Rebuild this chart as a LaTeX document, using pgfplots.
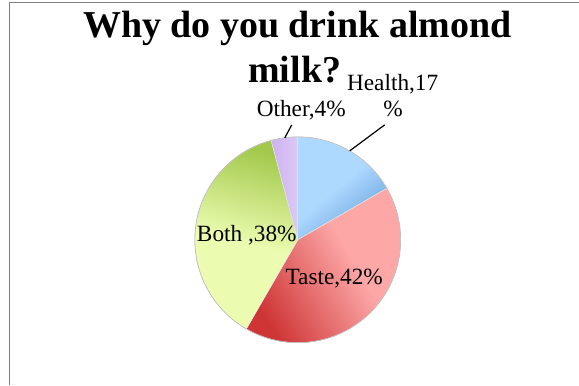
\documentclass[border=0pt]{standalone}
\usepackage{pgfplots}
\usepackage{pgfplotstable}
\pgfplotsset{compat=1.18}
\usepackage{fontspec}
\setmainfont{Liberation Serif}

\definecolor{hlight}{HTML}{ADD8FF}
\definecolor{hdark}{HTML}{6AA3DB}
\definecolor{tlight}{HTML}{FDA7A7}
\definecolor{tdark}{HTML}{CE3535}
\definecolor{blight}{HTML}{EBFCB0}
\definecolor{bdark}{HTML}{A3C94C}
\definecolor{olight}{HTML}{DCC8F8}
\definecolor{odark}{HTML}{CDB2F2}
\definecolor{framegray}{HTML}{808080}

\pgfdeclareverticalshading{healthshade}{100bp}{color(0bp)=(hdark); color(25bp)=(hdark); color(52bp)=(hlight); color(100bp)=(hlight)}
\pgfdeclareverticalshading{tasteshade}{100bp}{color(0bp)=(tdark); color(25bp)=(tdark); color(57bp)=(tlight); color(100bp)=(tlight)}
\pgfdeclareverticalshading{bothshade}{100bp}{color(0bp)=(blight); color(48bp)=(blight); color(75bp)=(bdark); color(100bp)=(bdark)}

\pgfplotstableread{
label share
Health 16.67
Taste 41.67
Both 37.50
Other 4.17
}\piedata

\begin{document}
\begin{tikzpicture}
\pgfplotstablegetelem{0}{share}\of\piedata\edef\sA{\pgfplotsretval}
\pgfplotstablegetelem{1}{share}\of\piedata\edef\sB{\pgfplotsretval}
\pgfplotstablegetelem{2}{share}\of\piedata\edef\sC{\pgfplotsretval}
\pgfplotstablegetelem{3}{share}\of\piedata\edef\sD{\pgfplotsretval}
\pgfmathsetmacro\sS{\sA+\sB+\sC+\sD}
\pgfmathsetmacro\aA{90}
\pgfmathsetmacro\aB{\aA-360*\sA/\sS}
\pgfmathsetmacro\aC{\aB-360*\sB/\sS}
\pgfmathsetmacro\aD{\aC-360*\sC/\sS}
\pgfmathsetmacro\aE{\aD-360*\sD/\sS}
\begin{axis}[
  scale only axis, width=579pt, height=385pt,
  xmin=0, xmax=579, ymin=0, ymax=385,
  axis lines=none, clip=false]
\path (axis cs:0,0) rectangle (axis cs:579,385);
% frame
\addplot[framegray, line width=1pt] coordinates {(10,0) (10,382) (579,382)};
% slices
\path[shading=healthshade, shading angle=40,
      draw=white!80!gray, line width=0.5pt]
  (axis cs:298,145) -- ++(\aA:103pt) arc[start angle=\aA, end angle=\aB, radius=103pt] -- cycle;
\path[shading=tasteshade, shading angle=-60,
      draw=white!80!gray, line width=0.5pt]
  (axis cs:298,145) -- ++(\aB:103pt) arc[start angle=\aB, end angle=\aC, radius=103pt] -- cycle;
\path[shading=bothshade, shading angle=-15,
      draw=white!80!gray, line width=0.5pt]
  (axis cs:298,145) -- ++(\aC:103pt) arc[start angle=\aC, end angle=\aD, radius=103pt] -- cycle;
\path[left color=odark, right color=olight,
      draw=white!80!gray, line width=0.5pt]
  (axis cs:298,145) -- ++(\aD:103pt) arc[start angle=\aD, end angle=\aE, radius=103pt] -- cycle;
\draw[gray!55, line width=0.6pt] (axis cs:298,145) circle[radius=103pt];
% leader lines
\addplot[black, line width=1.2pt] coordinates {(385,260) (350,234)};
\addplot[black, line width=1.2pt] coordinates {(292,260) (285,247)};
% title
\node[anchor=base, font=\fontsize{38}{40}\selectfont\bfseries] at (axis cs:297.5,347) {Why do you drink almond};
\node[anchor=base, font=\fontsize{38}{40}\selectfont\bfseries] at (axis cs:295,302) {milk?};
% labels
\node[anchor=base, font=\fontsize{23.3}{26}\selectfont, inner sep=0pt] at (axis cs:393,294) {Health,17};
\node[anchor=base, font=\fontsize{23.3}{26}\selectfont, inner sep=0pt] at (axis cs:393.5,268) {\%};
\node[anchor=base, font=\fontsize{23.3}{26}\selectfont, inner sep=0pt] at (axis cs:301.5,268) {Other,4\%};
\node[anchor=base, font=\fontsize{23.3}{26}\selectfont, inner sep=0pt] at (axis cs:247,143) {Both ,38\%};
\node[anchor=base, font=\fontsize{23.3}{26}\selectfont, inner sep=0pt] at (axis cs:334.5,100) {Taste,42\%};
\end{axis}
\end{tikzpicture}
\end{document}
